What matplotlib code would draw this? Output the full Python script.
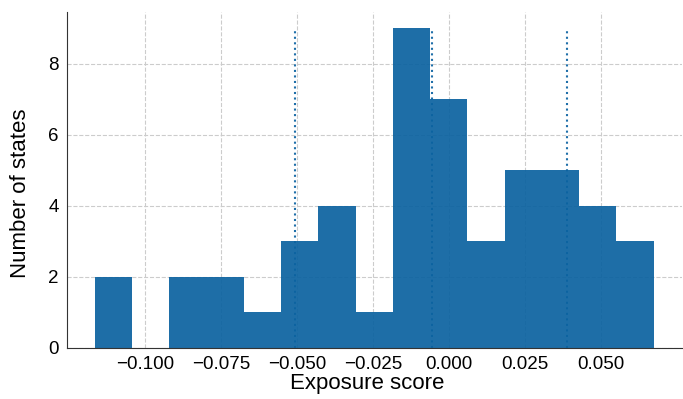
import numpy as np
import matplotlib
matplotlib.use('Agg')
import matplotlib.pyplot as plt

plt.rcParams['font.family'] = ['Liberation Sans', 'DejaVu Sans']

# histogram: 15 equal bins
bin_start = -0.1164
bin_end = 0.0674
counts = [2, 0, 2, 2, 1, 3, 4, 1, 9, 7, 3, 5, 5, 4, 3]
# dotted reference lines
markers = [-0.0507, -0.0056, 0.0388]

edges = np.linspace(bin_start, bin_end, len(counts) + 1)

fig = plt.figure(figsize=(6.83, 3.99), dpi=100)
ax = fig.add_axes([0.098, 0.128, 0.9, 0.842])

ax.hist(edges[:-1], bins=edges, weights=counts, color='#0b62a0', alpha=0.92,
        zorder=2)
ax.vlines(markers, 0, max(counts), colors='#1f6fa9', linestyles=':',
          linewidth=1.5, zorder=1)

ax.grid(True, linestyle='--', color='#cccccc', linewidth=0.8, zorder=0)
ax.set_axisbelow(True)
ax.spines['top'].set_visible(False)
ax.spines['right'].set_visible(False)
ax.spines['left'].set_color('#333333')
ax.spines['bottom'].set_color('#333333')
ax.tick_params(length=0, labelsize=13.5, pad=6)
ax.set_yticks([0, 2, 4, 6, 8])
ax.set_xticks([-0.1, -0.075, -0.05, -0.025, 0.0, 0.025, 0.05])

ax.set_xlabel('Exposure score', fontsize=16)
ax.set_ylabel('Number of states', fontsize=16)
ax.xaxis.set_label_coords(0.489, -0.075)
ax.yaxis.set_label_coords(-0.058, 0.46)

fig.savefig('out.png', dpi=100)
